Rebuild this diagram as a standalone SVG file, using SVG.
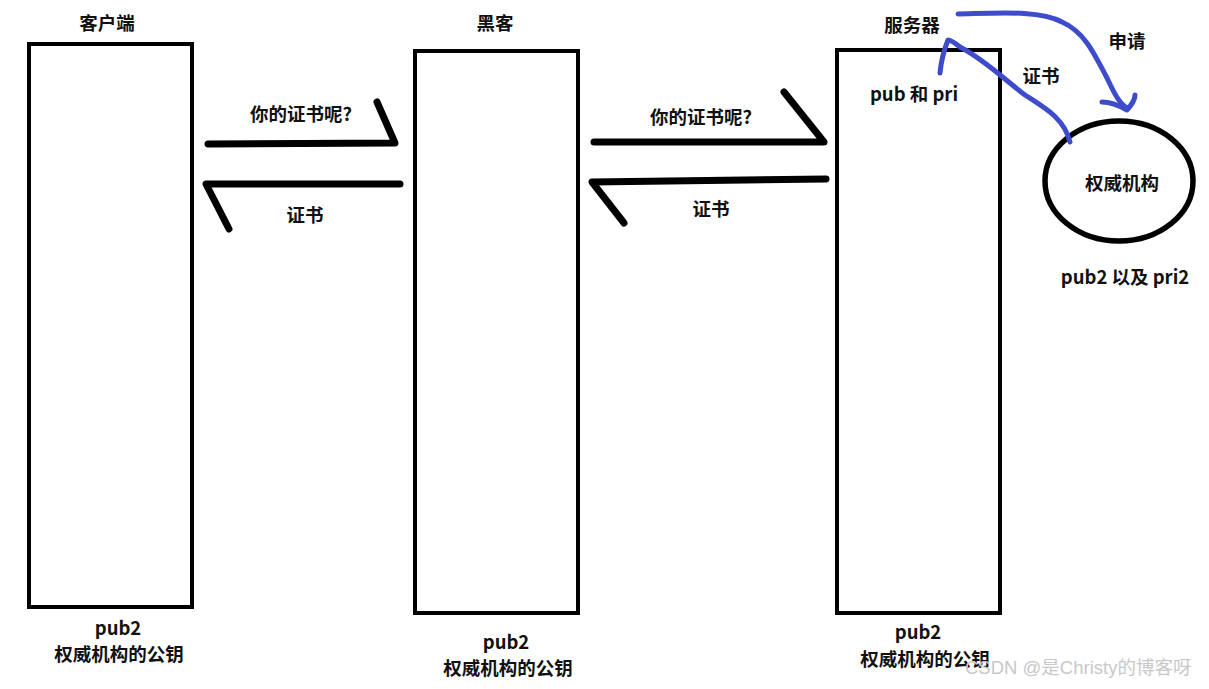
<svg xmlns="http://www.w3.org/2000/svg" width="1209" height="689" viewBox="0 0 1209 689">
<style>
.t{font-family:"Noto Sans CJK SC","Liberation Sans",sans-serif;font-weight:bold;font-size:18.5px;fill:#111;text-anchor:middle}
.box{fill:none;stroke:#000;stroke-width:4}
.arr{fill:none;stroke:#000;stroke-width:7;stroke-linecap:round;stroke-linejoin:round}
.blue{fill:none;stroke:#3e4ccb;stroke-width:5;stroke-linecap:round;stroke-linejoin:round}
.wm{font-family:"Liberation Sans","Noto Sans CJK SC",sans-serif;font-size:18.5px;fill:#c8c8c8;text-anchor:start}
</style>
<rect width="1209" height="689" fill="#fff"/>
<g id="client">
<rect class="box" x="29" y="44" width="163" height="563"/>
<text class="t" x="107" y="30">客户端</text>
<text class="t" x="118" y="635">pub2</text>
<text class="t" x="119" y="661">权威机构的公钥</text>
</g>
<g id="hacker">
<rect class="box" x="415" y="51" width="163" height="562"/>
<text class="t" x="495" y="30">黑客</text>
<text class="t" x="506" y="649">pub2</text>
<text class="t" x="508" y="675">权威机构的公钥</text>
</g>
<g id="server">
<rect class="box" x="837" y="50" width="163" height="563"/>
<text class="t" x="912" y="32">服务器</text>
<text class="t" x="914" y="101">pub 和 pri</text>
<text class="t" x="918" y="639">pub2</text>
<text class="t" x="925" y="666">权威机构的公钥</text>
</g>
<g id="authority">
<ellipse cx="1119" cy="181" rx="74" ry="60" fill="none" stroke="#000" stroke-width="5.5"/>
<text class="t" x="1122" y="190">权威机构</text>
<text class="t" x="1125" y="284">pub2 以及 pri2</text>
</g>
<g id="connectors">
<path class="arr" d="M208,144 L395,143 L377,102"/>
<path class="arr" d="M400,184 L206,184 L229,229"/>
<path class="arr" d="M594,142 L824,142 L784,92"/>
<path class="arr" d="M826,179 L592,182 L624,223"/>
<path class="blue" d="M958,14 C1000,13 1040,10 1062,22 C1085,32 1095,55 1108,80 C1115,95 1120,104 1127,108"/>
<path class="blue" d="M1102,102 C1112,102 1120,106 1127,110 C1132,104 1135,100 1135,95"/>
<path class="blue" d="M1070,142 C1064,118 1045,108 1025,95 C1005,80 985,60 960,47 C955,43 950,40 948,40 C944,50 941,62 940,73"/>
<text class="t" x="301" y="121">你的证书呢?</text>
<text class="t" x="305" y="222">证书</text>
<text class="t" x="701" y="124">你的证书呢?</text>
<text class="t" x="711" y="216">证书</text>
<text class="t" x="1127" y="48">申请</text>
<text class="t" x="1041" y="83">证书</text>
</g>
<text class="wm" x="965" y="674">CSDN @是Christy的博客呀</text>
</svg>
